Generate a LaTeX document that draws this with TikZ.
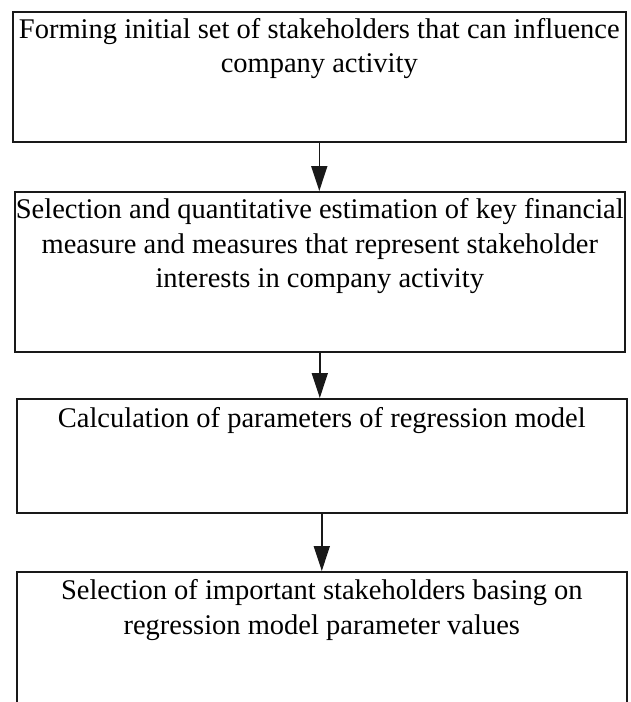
\documentclass[tikz,border=0pt]{standalone}
\usepackage{fontspec}
\setmainfont{Liberation Serif}
\usetikzlibrary{arrows.meta}
\begin{document}
\begin{tikzpicture}[x=1pt,y=-1pt,
  stepbox/.style={draw=black!90,line width=1.6pt,anchor=north west,inner sep=0pt},
  label/.style={anchor=north,inner sep=0pt,align=center,font=\fontsize{28.5}{34.5}\selectfont},
  flow/.style={draw=black!90,line width=1.6pt,-{Triangle[length=25pt,width=16pt]}}]
\useasboundingbox (0,0) rectangle (630,702);
\clip (0,0) rectangle (630,702);
\node[stepbox,minimum width=613pt,minimum height=130pt] (b1) at (12,11) {};
\node[stepbox,minimum width=610pt,minimum height=160pt] (b2) at (14,191) {};
\node[stepbox,minimum width=610pt,minimum height=114pt] (b3) at (16,398) {};
\node[stepbox,minimum width=610pt,minimum height=160pt] (b4) at (16,571) {};
\node[label] (t1) at ([yshift=-7pt]b1.north) {Forming initial set of stakeholders that can influence\\company activity};
\node[label] (t2) at ([yshift=-7.5pt]b2.north) {Selection and quantitative estimation of key financial\\measure and measures that represent stakeholder\\interests in company activity};
\node[label] (t3) at ([yshift=-9pt]b3.north) {Calculation of parameters of regression model};
\node[label] (t4) at ([yshift=-8.5pt]b4.north) {Selection of important stakeholders basing on\\regression model parameter values};
\draw[flow] (b1.south) -- (b1.south |- b2.north);
\draw[flow] (b2.south) -- (b2.south |- b3.north);
\draw[flow] (b3.south) -- (b3.south |- b4.north);
\end{tikzpicture}
\end{document}
